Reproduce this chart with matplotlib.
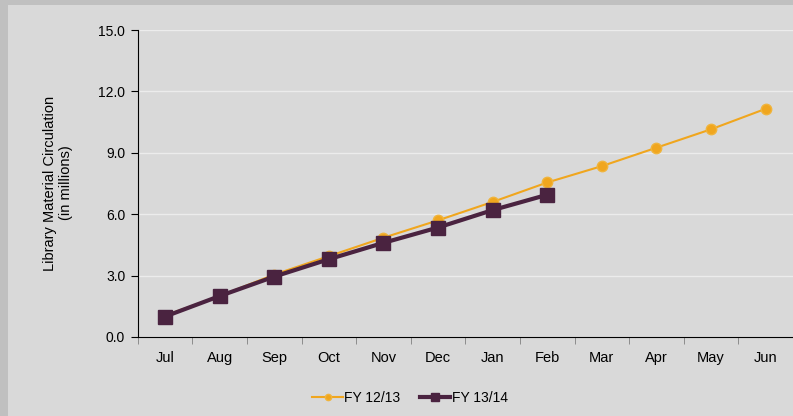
import matplotlib
matplotlib.use("Agg")
import matplotlib.pyplot as plt
from matplotlib.patches import Rectangle

months = ["Jul", "Aug", "Sep", "Oct", "Nov", "Dec", "Jan", "Feb", "Mar", "Apr", "May", "Jun"]
fy1213 = [1.05, 2.0, 3.05, 3.95, 4.85, 5.7, 6.6, 7.55, 8.35, 9.25, 10.15, 11.15]
fy1314 = [1.0, 2.0, 2.95, 3.8, 4.6, 5.35, 6.2, 6.95]
y_ticks = [0.0, 3.0, 6.0, 9.0, 12.0, 15.0]

W, H = 793, 416
fig = plt.figure(figsize=(W / 100, H / 100), dpi=100)
fig.patch.set_facecolor("#c0c0c0")
fig.patches.append(Rectangle((8 / W, 0), 1, 1 - 5 / H, transform=fig.transFigure,
                             facecolor="#d9d9d9", edgecolor="none", zorder=-10))

ax = fig.add_axes([137.7 / W, 1 - 337 / H, (W - 137.7) / W, 307 / H])
ax.set_facecolor("#d9d9d9")

x1 = list(range(len(fy1213)))
x2 = list(range(len(fy1314)))
ax.plot(x1, fy1213, color="#f0a61e", lw=1.5, marker="o", ms=7.5,
        mec="#f0b43c", mfc="#f0a61e", label="FY 12/13", zorder=3)
ax.plot(x2, fy1314, color="#4a2340", lw=3, marker="s", ms=9.5,
        mec="#4a2340", mfc="#4a2340", label="FY 13/14", zorder=4)

ax.set_xlim(-0.5, len(months) - 0.5)
ax.set_ylim(0, 15)
ax.set_yticks(y_ticks)
ax.set_yticklabels([f"{v:.1f}" for v in y_ticks], fontsize=10, fontfamily="Liberation Sans")
ax.set_xticks(range(len(months)))
ax.set_xticklabels(months, fontsize=10.5, fontfamily="Liberation Sans")
ax.tick_params(axis="x", length=0, pad=10)
ax.set_xticks([i - 0.5 for i in range(len(months) + 1)], minor=True)
ax.tick_params(axis="x", which="minor", length=5, color="#808080", direction="out")
ax.tick_params(axis="y", length=5, color="black", direction="out", pad=4)

ax.grid(axis="y", color="#ececec", lw=1)
ax.set_axisbelow(True)
for s in ["top", "right"]:
    ax.spines[s].set_visible(False)
ax.spines["left"].set_color("black")
ax.spines["bottom"].set_color("black")

fig.text(58 / W, 1 - 183 / H, "Library Material Circulation\n(in millions)",
         rotation=90, ha="center", va="center", fontsize=10.5,
         fontfamily="Liberation Sans", linespacing=1.1)

leg = fig.legend(loc="center", bbox_to_anchor=(410 / W, 1 - 398 / H), ncol=2,
                 frameon=False, prop={"family": "Liberation Sans", "size": 10},
                 handlelength=2.2, handletextpad=0.1, columnspacing=1.4, markerscale=0.6)

fig.savefig("out.png", dpi=100, facecolor=fig.get_facecolor())
